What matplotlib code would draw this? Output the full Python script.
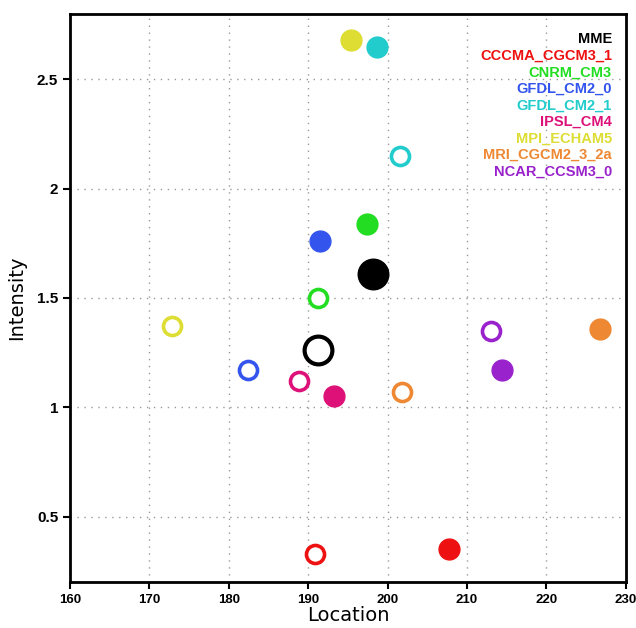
import numpy as np
import matplotlib.pyplot as plt

# ----------- data ------------
models = ["MME", "CCCMA_CGCM3_1", "CNRM_CM3", "GFDL_CM2_0", "GFDL_CM2_1",
          "IPSL_CM4", "MPI_ECHAM5", "MRI_CGCM2_3_2a", "NCAR_CCSM3_0"]
colors = ["#000000", "#ee1111", "#22dd22", "#3355ee", "#22cccc",
          "#dd1177", "#dddd33", "#ee8833", "#9922cc"]

# filled circles
loc_filled = [198.1, 207.7, 197.4, 191.5, 198.7, 193.2, 195.4, 226.8, 214.4]
int_filled = [1.61, 0.35, 1.84, 1.76, 2.65, 1.05, 2.68, 1.36, 1.17]

# open circles
loc_open = [191.2, 190.9, 191.2, 182.4, 201.6, 188.9, 172.9, 201.8, 213.0]
int_open = [1.26, 0.33, 1.50, 1.17, 2.15, 1.12, 1.37, 1.07, 1.35]

xticks = [160, 170, 180, 190, 200, 210, 220, 230]
yticks = [0.5, 1, 1.5, 2, 2.5]
# -----------------------------

lib = ["Liberation Sans", "DejaVu Sans"]

fig = plt.figure(figsize=(6.36, 6.28), dpi=100)
ax = fig.add_axes([0.110, 0.073, 0.874, 0.905])

for i, name in enumerate(models):
    big = (name == "MME")
    ms = 22 if big else 15
    ax.plot(loc_filled[i], int_filled[i], "o", ms=ms, color=colors[i],
            mec=colors[i], zorder=3)
    ax.plot(loc_open[i], int_open[i], "o", ms=ms - 2, mfc="white",
            mec=colors[i], mew=3 if big else 2.6, zorder=3)

ax.set_xlim(160, 230)
ax.set_ylim(0.2, 2.8)
ax.set_xticks(xticks)
ax.set_yticks(yticks)
ax.set_xticklabels([str(t) for t in xticks], fontsize=9.5, fontweight="bold",
                   family=lib)
ax.set_yticklabels(["0.5", "1", "1.5", "2", "2.5"], fontsize=11,
                   fontweight="bold", family=lib)
ax.tick_params(direction="out", length=5, width=1.5, top=False, right=False)
ax.grid(True, linestyle=(0, (1, 4)), color="#999999", linewidth=1)
ax.set_axisbelow(True)
for sp in ax.spines.values():
    sp.set_linewidth(2)

ax.set_xlabel("Location", fontsize=14, labelpad=0)
ax.set_ylabel("Intensity", fontsize=14, labelpad=8)

# colored text legend in upper right
for i, name in enumerate(models):
    ax.text(0.975, 0.955 - i * 0.029, name, transform=ax.transAxes,
            ha="right", va="center", color=colors[i], fontsize=10.5,
            fontweight="bold", family=lib)

fig.savefig("out.png", dpi=100)
